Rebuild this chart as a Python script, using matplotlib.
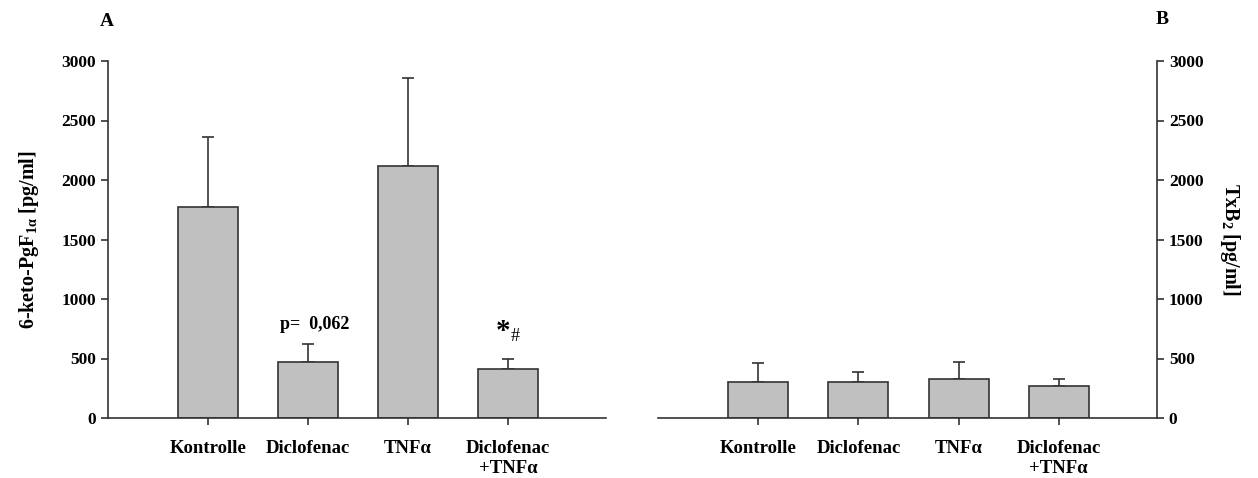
import matplotlib
matplotlib.use("Agg")
import matplotlib.pyplot as plt
import numpy as np

# ── Data ──────────────────────────────────────────────────────────────────────
GROUPS = ["Kontrolle", "Diclofenac", "TNFα", "Diclofenac\n+TNFα"]
KETO_MEAN = [1775, 470, 2115, 415]
KETO_ERR = [585, 150, 740, 85]
TXB2_MEAN = [302, 302, 325, 273]
TXB2_ERR = [160, 88, 142, 52]
Y_TICKS = [0, 500, 1000, 1500, 2000, 2500, 3000]

plt.rcParams["font.family"] = ["Liberation Serif", "DejaVu Serif"]
plt.rcParams["font.weight"] = "bold"
plt.rcParams["mathtext.fontset"] = "custom"
plt.rcParams["mathtext.rm"] = "Liberation Serif:bold"
plt.rcParams["mathtext.it"] = "Liberation Serif:bold"
plt.rcParams["mathtext.bf"] = "Liberation Serif:bold"

BAR_COLOR = "#c0c0c0"
EDGE = "#333333"

fig = plt.figure(figsize=(12.58, 4.78), dpi=100)
W, H = 1258, 478
ax_a = fig.add_axes([108 / W, 60 / H, 498 / W, 357 / H])
ax_b = fig.add_axes([658 / W, 60 / H, 499 / W, 357 / H])


def draw_panel(ax, means, errs, side):
    x = np.arange(1, len(GROUPS) + 1)
    ax.bar(x, means, width=0.6, color=BAR_COLOR, edgecolor=EDGE, linewidth=1.2, zorder=2)
    ax.errorbar(x, means, yerr=[np.zeros(len(errs)), errs], fmt="none",
                ecolor=EDGE, elinewidth=1.2, capsize=4.5, capthick=1.2, zorder=1)
    ax.set_xlim(0, 4.98)
    ax.set_ylim(0, 3000)
    ax.set_yticks(Y_TICKS)
    ax.set_yticklabels([str(t) for t in Y_TICKS], fontsize=12.5, fontweight="bold")
    ax.set_xticks(x)
    ax.set_xticklabels(GROUPS, fontsize=13.5, fontweight="bold", linespacing=1.2)
    for s in ["top", "left", "right"]:
        ax.spines[s].set_visible(False)
    ax.spines[side].set_visible(True)
    for s in ["bottom", side]:
        ax.spines[s].set_color(EDGE)
        ax.spines[s].set_linewidth(1.2)
    ax.tick_params(axis="both", direction="out", length=5, width=1.2, color=EDGE)
    ax.tick_params(axis="x", pad=11)
    if side == "right":
        ax.yaxis.tick_right()
        ax.yaxis.set_label_position("right")


draw_panel(ax_a, KETO_MEAN, KETO_ERR, "left")
draw_panel(ax_b, TXB2_MEAN, TXB2_ERR, "right")

ax_a.set_ylabel(r"6-keto-PgF$_{\mathrm{1\alpha}}$ [pg/ml]", fontsize=14.5, fontweight="bold", labelpad=15)
ax_b.set_ylabel(r"TxB$_{\mathrm{2}}$ [pg/ml]", fontsize=14.5, fontweight="bold",
                rotation=-90, labelpad=28)

# annotations
ax_a.text(2.07, 715, "p=  0,062", ha="center", va="bottom", fontsize=13, fontweight="bold")
ax_a.text(3.95, 610, "*", ha="center", va="bottom", fontsize=21, fontweight="bold")
ax_a.text(4.07, 610, "#", ha="center", va="bottom", fontsize=13, fontweight="normal")

fig.text(107 / W, 1 - 22 / H, "A", ha="center", va="center", fontsize=14, fontweight="bold")
fig.text(1162 / W, 1 - 20 / H, "B", ha="center", va="center", fontsize=14, fontweight="bold")

fig.savefig("out.png", dpi=100)
